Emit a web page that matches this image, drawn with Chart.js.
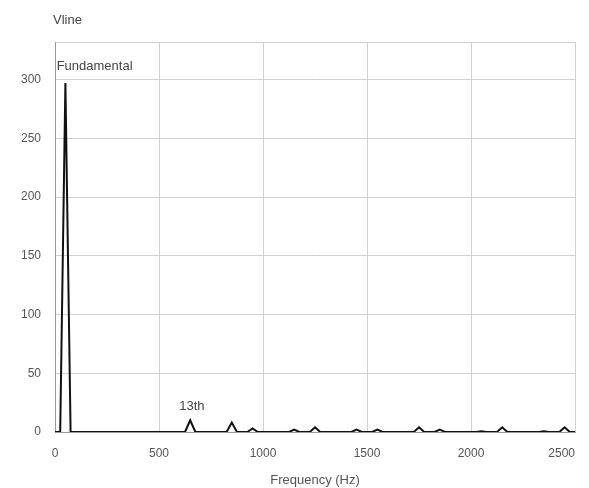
<!DOCTYPE html>
<html>
<head>
<meta charset="utf-8">
<script src="https://cdn.jsdelivr.net/npm/chart.js@4/dist/chart.umd.min.js"></script>
<style>
html,body{margin:0;padding:0;background:#fff;}
#wrap{width:589px;height:488px;}
</style>
</head>
<body>
<div id="wrap"><canvas id="c" width="589" height="488"></canvas></div>
<script>
// Spectrum points (Hz) and magnitudes
const frequencies = [0, 25, 50, 75, 625, 650, 675, 825, 850, 875, 925, 950, 975, 1125, 1150, 1175, 1225, 1250, 1275, 1425, 1450, 1475, 1525, 1550, 1575, 1725, 1750, 1775, 1825, 1850, 1875, 2025, 2050, 2075, 2125, 2150, 2175, 2325, 2350, 2375, 2425, 2450, 2475, 2500];
const magnitudes  = [0, 0, 297, 0, 0, 10, 0, 0, 8, 0, 0, 3, 0, 0, 2, 0, 0, 4, 0, 0, 2, 0, 0, 2, 0, 0, 4, 0, 0, 2, 0, 0, 0.6, 0, 0, 4, 0, 0, 0.6, 0, 0, 4, 0, 0];
const xTicks = [0, 500, 1000, 1500, 2000, 2500];
const yTicks = [0, 50, 100, 150, 200, 250, 300];
const labels = [
  {text: "Fundamental", x: 8, y: 306},
  {text: "13th", x: 597, y: 16}
];

const points = frequencies.map((f, i) => ({x: f, y: magnitudes[i]}));
const font = {family: "'Liberation Sans', Arial, sans-serif", size: 12};
const textColor = '#555';
const lastX = xTicks[xTicks.length - 1];

const textPlugin = {
  id: 'texts',
  afterDatasetsDraw(chart) {
    const ctx = chart.ctx;
    const xs = chart.scales.x, ys = chart.scales.y;
    ctx.save();
    ctx.font = "13px 'Liberation Sans', Arial, sans-serif";
    ctx.fillStyle = '#444';
    ctx.textBaseline = 'bottom';
    ctx.textAlign = 'left';
    labels.forEach(l => {
      ctx.fillText(l.text, xs.getPixelForValue(l.x), ys.getPixelForValue(l.y));
    });
    ctx.fillText('Vline', chart.chartArea.left - 2, chart.chartArea.top - 15);
    // last x tick label, kept inside the picture as in the reference
    ctx.font = "12px 'Liberation Sans', Arial, sans-serif";
    ctx.fillStyle = textColor;
    ctx.textAlign = 'right';
    ctx.textBaseline = 'middle';
    ctx.fillText(String(lastX), xs.getPixelForValue(lastX), chart.chartArea.bottom + 22);
    ctx.restore();
  }
};

new Chart(document.getElementById('c'), {
  type: 'line',
  data: {
    datasets: [{
      data: points,
      borderColor: '#111',
      borderWidth: 2,
      pointRadius: 0,
      tension: 0,
      fill: false
    }]
  },
  options: {
    responsive: false,
    animation: false,
    plugins: {legend: {display: false}, tooltip: {enabled: false}},
    layout: {padding: {top: 42, right: 12, left: 0, bottom: 0}},
    scales: {
      x: {
        type: 'linear',
        min: 0, max: 2500,
        afterBuildTicks: s => { s.ticks = xTicks.map(v => ({value: v})); },
        ticks: {color: textColor, font: font, padding: 14, maxRotation: 0, callback: v => (v === lastX ? '' : String(v))},
        grid: {color: '#d0d0d0', lineWidth: 1, drawTicks: false},
        border: {color: '#999'},
        title: {display: true, text: 'Frequency (Hz)', color: textColor, font: {family: font.family, size: 13}, padding: {top: 0, bottom: 0}},
        afterFit: s => { s.height = 56; }
      },
      y: {
        min: 0, max: 332,
        afterBuildTicks: s => { s.ticks = yTicks.concat([332]).map(v => ({value: v})); },
        ticks: {color: textColor, font: font, padding: 14, callback: v => (v === 332 ? '' : String(v))},
        grid: {color: '#d0d0d0', lineWidth: 1, drawTicks: false},
        border: {color: '#999'},
        afterFit: s => { s.width = 55; }
      }
    }
  },
  plugins: [textPlugin]
});
</script>
</body>
</html>
